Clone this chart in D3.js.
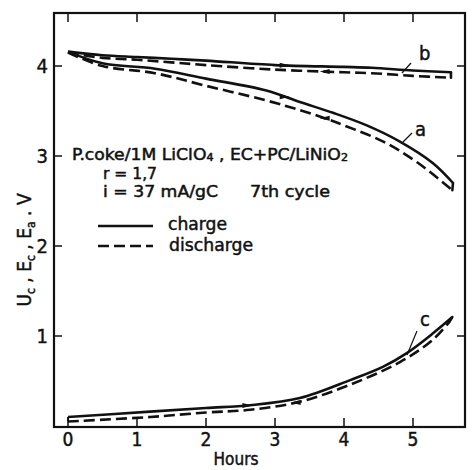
<!DOCTYPE html>
<html>
<head>
<meta charset="utf-8">
<script src="https://cdn.jsdelivr.net/npm/d3@7"></script>
<style>
  body { margin: 0; background: #fff; }
  text { font-family: "DejaVu Sans Condensed", "DejaVu Sans", sans-serif; fill: #111; stroke: #111; stroke-width: 0.45px; }
</style>
</head>
<body>
<script>
// hours
const bChargeT = [0, 0.5, 1, 1.5, 2, 3, 4, 4.4, 5, 5.55]
const bChargeV = [4.16, 4.12, 4.10, 4.08, 4.06, 4.01, 3.99, 3.98, 3.95, 3.93]
const bDischT = [0, 0.5, 1, 1.5, 2, 3, 4, 4.4, 5, 5.55]
const bDischV = [4.15, 4.09, 4.07, 4.04, 4.01, 3.96, 3.93, 3.92, 3.89, 3.87]

const aChargeT = [0, 0.5, 1.26, 2, 2.86, 3.36, 3.84, 4.33, 4.81, 5.29, 5.58]
const aChargeV = [4.16, 4.03, 3.97, 3.86, 3.73, 3.6, 3.48, 3.34, 3.16, 2.92, 2.7]
const aDischT = [0, 0.5, 1.26, 2, 2.86, 3.36, 3.72, 4.0, 4.57, 5.06, 5.57]
const aDischV = [4.15, 4.0, 3.92, 3.78, 3.62, 3.51, 3.42, 3.34, 3.16, 2.93, 2.62]

const cChargeT = [0, 1.19, 2.0, 2.64, 3.36, 4.09, 4.57, 4.91, 5.29, 5.57]
const cChargeV = [0.1, 0.16, 0.2, 0.23, 0.31, 0.51, 0.66, 0.81, 1.03, 1.21]
const cDischT = [0, 1.19, 2.0, 2.64, 3.36, 4.09, 4.81, 5.29, 5.53]
const cDischV = [0.05, 0.1, 0.15, 0.18, 0.27, 0.46, 0.71, 0.96, 1.16]

const xTicks = [0, 1, 2, 3, 4, 5]
const yTicks = [1, 2, 3, 4]

// arrow marks on the curves, dir 1 = right, -1 = left
const arrowMarks = [
  { t: bChargeT, v: bChargeV, at: 3.14, dir: 1 },
  { t: bDischT, v: bDischV, at: 3.72, dir: -1 },
  { t: aChargeT, v: aChargeV, at: 3.14, dir: 1 },
  { t: aDischT, v: aDischV, at: 3.72, dir: -1 },
  { t: cChargeT, v: cChargeV, at: 2.6, dir: 1 },
  { t: cDischT, v: cDischV, at: 3.3, dir: -1 }
]

const W = 472, H = 470
const svg = d3.select("body").append("svg")
    .attr("width", W)
    .attr("height", H)

const x = d3.scaleLinear().domain([0, 5]).range([68, 413])
const y = d3.scaleLinear().domain([0, 4]).range([426, 66])

const fL = 54, fR = 465, fT = 13, fB = 427

// frame
svg.append("rect")
    .attr("x", fL).attr("y", fT)
    .attr("width", fR - fL).attr("height", fB - fT)
    .attr("fill", "none").attr("stroke", "#111").attr("stroke-width", 2.2)

// ticks, all pointing inward
xTicks.forEach(function(t) {
  svg.append("line").attr("x1", x(t)).attr("x2", x(t)).attr("y1", fB).attr("y2", fB - 9)
      .attr("stroke", "#111").attr("stroke-width", 1.5)
  svg.append("line").attr("x1", x(t)).attr("x2", x(t)).attr("y1", fT).attr("y2", fT + 9)
      .attr("stroke", "#111").attr("stroke-width", 1.5)
  svg.append("text").attr("x", x(t)).attr("y", 446)
      .attr("text-anchor", "middle").attr("font-size", 19).text(t)
})
yTicks.forEach(function(v) {
  svg.append("line").attr("x1", fL).attr("x2", fL + 8).attr("y1", y(v)).attr("y2", y(v))
      .attr("stroke", "#111").attr("stroke-width", 1.5)
  svg.append("line").attr("x1", fR).attr("x2", fR - 8).attr("y1", y(v)).attr("y2", y(v))
      .attr("stroke", "#111").attr("stroke-width", 1.5)
  svg.append("text").attr("x", 48).attr("y", y(v) + 7)
      .attr("text-anchor", "end").attr("font-size", 20).text(v)
})

svg.append("text").attr("x", 236).attr("y", 465)
    .attr("text-anchor", "middle").attr("font-size", 17).text("Hours")

// y axis label
const yl = svg.append("text")
    .attr("transform", "translate(31,250) rotate(-90)")
    .attr("text-anchor", "middle").attr("font-size", 19)
yl.append("tspan").text("U")
yl.append("tspan").attr("font-size", 12).attr("dy", 4).text("c")
yl.append("tspan").attr("dy", -4).text(" , E")
yl.append("tspan").attr("font-size", 12).attr("dy", 4).text("c")
yl.append("tspan").attr("dy", -4).text(" , E")
yl.append("tspan").attr("font-size", 12).attr("dy", 4).text("a")
yl.append("tspan").attr("dy", -4).text(" . V")

// curves
const line = d3.line()
    .x(function(d) { return x(d[0]) })
    .y(function(d) { return y(d[1]) })
    .curve(d3.curveCatmullRom.alpha(0.5))

function pairs(ts, vs) { return ts.map(function(t, i) { return [t, vs[i]] }) }

const curves = [
  { t: bChargeT, v: bChargeV, dash: null },
  { t: bDischT, v: bDischV, dash: "11,5" },
  { t: aChargeT, v: aChargeV, dash: null },
  { t: aDischT, v: aDischV, dash: "11,5" },
  { t: cChargeT, v: cChargeV, dash: null },
  { t: cDischT, v: cDischV, dash: "11,5" }
]
curves.forEach(function(c) {
  svg.append("path")
      .attr("d", line(pairs(c.t, c.v)))
      .attr("fill", "none").attr("stroke", "#111").attr("stroke-width", 2.6)
      .attr("stroke-dasharray", c.dash)
})

// closing ends of each loop
const ends = [[bChargeT, bChargeV, bDischT, bDischV], [aChargeT, aChargeV, aDischT, aDischV],
              [cChargeT, cChargeV, cDischT, cDischV]]
ends.forEach(function(e) {
  const n1 = e[0].length - 1, n2 = e[2].length - 1
  svg.append("line")
      .attr("x1", x(e[0][n1])).attr("y1", y(e[1][n1]))
      .attr("x2", x(e[2][n2])).attr("y2", y(e[3][n2]))
      .attr("stroke", "#111").attr("stroke-width", 2.6).attr("stroke-linecap", "round")
})
// start of c: short riser between the two lines
svg.append("line")
    .attr("x1", x(cDischT[0])).attr("y1", y(cDischV[0]))
    .attr("x2", x(cChargeT[0])).attr("y2", y(cChargeV[0]))
    .attr("stroke", "#111").attr("stroke-width", 2)

// little arrow heads on the curves
arrowMarks.forEach(function(m) {
  const vv = d3.scaleLinear().domain(m.t).range(m.v)(m.at)
  const px = x(m.at), py = y(vv)
  const s = 5 * m.dir
  svg.append("path")
      .attr("d", "M" + (px + s) + "," + py + "L" + (px - s) + "," + (py - 2.5) + "L" + (px - s) + "," + (py + 2.5) + "Z")
      .attr("fill", "#111")
})

// curve labels with leader lines
const labels = [
  { s: "b", tx: 419, ty: 60, x1: 402, y1: 73, x2: 411, y2: 63 },
  { s: "a", tx: 415, ty: 136, x1: 403, y1: 142, x2: 412, y2: 133 },
  { s: "c", tx: 420, ty: 326, x1: 407, y1: 355, x2: 417, y2: 331 }
]
labels.forEach(function(l) {
  svg.append("line").attr("x1", l.x1).attr("y1", l.y1).attr("x2", l.x2).attr("y2", l.y2)
      .attr("stroke", "#111").attr("stroke-width", 1.2)
  svg.append("text").attr("x", l.tx).attr("y", l.ty).attr("font-size", 20).text(l.s)
})

// annotation text block
const t1 = svg.append("text").attr("x", 72).attr("y", 160).attr("font-size", 15.5)
    .attr("textLength", 276).attr("lengthAdjust", "spacingAndGlyphs")
t1.append("tspan").text("P.coke/1M LiClO")
t1.append("tspan").attr("font-size", 10).attr("dy", 1).text("4")
t1.append("tspan").attr("dy", -1).text(" , EC+PC/LiNiO")
t1.append("tspan").attr("font-size", 10).attr("dy", 1).text("2")

svg.append("text").attr("x", 103).attr("y", 179).attr("font-size", 15.5)
    .attr("textLength", 54).attr("lengthAdjust", "spacingAndGlyphs").text("r  = 1,7")
svg.append("text").attr("x", 103).attr("y", 197).attr("font-size", 15.5)
    .attr("textLength", 115).attr("lengthAdjust", "spacingAndGlyphs").text("i  = 37 mA/gC")
svg.append("text").attr("x", 250).attr("y", 197).attr("font-size", 15.5)
    .attr("textLength", 80).attr("lengthAdjust", "spacingAndGlyphs").text("7th  cycle")

// legend
svg.append("line").attr("x1", 98).attr("x2", 153).attr("y1", 226).attr("y2", 226)
    .attr("stroke", "#111").attr("stroke-width", 2.6)
svg.append("line").attr("x1", 98).attr("x2", 153).attr("y1", 246).attr("y2", 246)
    .attr("stroke", "#111").attr("stroke-width", 2.6).attr("stroke-dasharray", "11,5")
svg.append("text").attr("x", 168).attr("y", 230).attr("font-size", 18)
    .attr("textLength", 59).attr("lengthAdjust", "spacingAndGlyphs").text("charge")
svg.append("text").attr("x", 169).attr("y", 251).attr("font-size", 18)
    .attr("textLength", 84).attr("lengthAdjust", "spacingAndGlyphs").text("discharge")
</script>
</body>
</html>
